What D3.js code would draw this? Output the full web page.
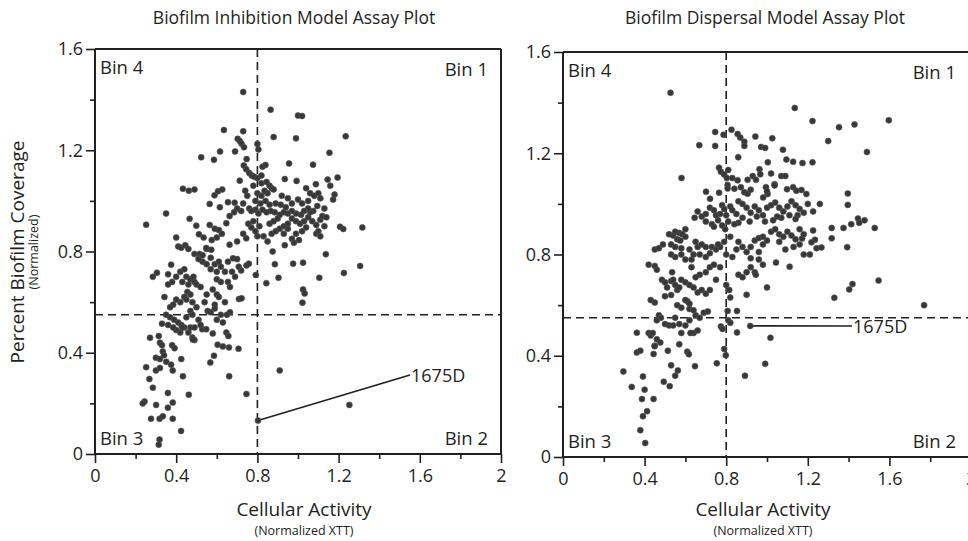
<!DOCTYPE html>
<html>
<head>
<meta charset="utf-8">
<script src="https://cdn.jsdelivr.net/npm/d3@7"></script>
<style>
  body { margin: 0; background: #fff; }
  svg { display: block; }
</style>
</head>
<body>
<script>
// ********************** DATA **************************************************************
// [cellular activity, percent biofilm coverage]
var inhibitionPoints = [
  [0.73,1.43],[0.865,1.36],[1.0,1.337],[1.02,1.335],[0.635,1.28],[0.73,1.275],[1.235,1.255],[0.88,1.252],[0.99,1.247],[0.703,1.245],
  [0.713,1.237],[0.722,1.226],[0.734,1.212],[0.80,1.225],[0.805,1.203],[0.616,1.195],[0.69,1.195],[1.155,1.19],[0.523,1.172],[0.586,1.162],
  [0.747,1.165],[1.074,1.143],[0.956,1.148],[0.733,1.14],[0.745,1.125],[0.825,1.135],[0.84,1.142],[0.76,1.11],[0.772,1.10],[0.785,1.095],
  [0.80,1.09],[0.82,1.10],
  [0.713,1.08],[1.195,1.092],[0.993,1.079],[0.935,1.086],[1.146,1.084],[1.159,1.06],[0.433,1.048],[0.462,1.04],[0.49,1.045],[0.606,1.038],
  [0.627,1.045],[0.78,1.06],[0.82,1.07],[0.845,1.075],[0.86,1.06],[0.87,1.05],[0.835,1.04],[0.80,1.03],[0.82,1.02],[0.85,1.03],
  [0.88,1.045],[1.088,1.066],[1.18,1.025],[1.173,1.005],[0.589,1.022],[0.688,0.993],[0.565,0.988],[0.74,1.04],[0.75,1.02],[0.73,0.99],
  [0.76,0.97],[0.79,1.0],[0.815,0.99],[0.84,1.0],[0.86,0.985],[0.89,0.99],[0.915,0.985],[0.94,0.975],[0.97,0.99],[1.0,1.005],
  [1.02,0.99],[1.05,1.0],[1.06,1.03],[1.08,1.02],[1.10,1.03],[1.11,1.01],[1.04,1.05],[0.92,1.02],[0.95,1.01],[1.13,0.97],
  [1.095,0.98],[1.075,0.96],[1.06,0.955],[1.05,0.97],[1.03,0.96],[1.015,0.945],[0.99,0.95],[0.97,0.96],[0.95,0.95],[0.93,0.955],
  [0.91,0.945],[0.885,0.955],[0.865,0.96],[0.845,0.955],[0.825,0.965],[0.805,0.95],[0.79,0.965],[0.77,0.96],[0.72,0.96],[0.70,0.97],
  [0.685,0.955],[0.663,0.94],[0.35,0.95],[0.615,0.975],[0.655,0.995],
  [0.252,0.906],[1.317,0.895],[1.207,0.898],[1.223,0.889],[0.647,0.912],[0.466,0.929],[0.499,0.902],[0.512,0.868],[0.535,0.855],[0.40,0.855],
  [0.41,0.82],[0.425,0.815],[0.445,0.825],[0.46,0.81],[0.565,0.905],[0.59,0.89],[0.61,0.885],[0.625,0.87],[0.60,0.855],[0.575,0.845],
  [0.55,0.81],[0.573,0.807],[0.663,0.827],[0.70,0.84],[0.73,0.87],[0.745,0.852],[0.77,0.895],[0.79,0.88],[0.80,0.86],[0.83,0.86],
  [0.85,0.84],[0.87,0.87],[0.89,0.88],[0.91,0.89],[0.93,0.90],[0.95,0.91],[0.97,0.93],[0.99,0.92],[1.01,0.91],[1.03,0.92],
  [1.05,0.935],[1.07,0.92],[1.09,0.905],[1.11,0.925],[1.12,0.94],[1.14,0.935],[1.04,0.895],[1.02,0.88],[0.99,0.87],[0.97,0.85],
  [0.98,0.835],[1.005,0.845],[1.09,0.87],[1.11,0.86],[1.1,0.88],[1.13,0.90],[0.95,0.89],[0.93,0.87],[0.755,0.91],[0.78,0.92],
  [0.81,0.90],[0.86,0.91],[0.88,0.92],[0.9,0.93],
  [0.49,0.79],[0.515,0.79],[0.548,0.814],[0.68,0.773],[0.70,0.77],[0.708,0.74],[0.72,0.725],[0.746,0.745],[0.758,0.752],[0.792,0.707],
  [0.976,0.752],[1.025,0.756],[1.137,0.789],[1.306,0.743],[1.226,0.715],[1.105,0.696],[0.904,0.696],[0.844,0.675],[1.025,0.65],[1.033,0.634],
  [1.022,0.598],[0.709,0.612],[0.722,0.615],[0.886,0.75],[0.935,0.825],[0.875,0.80],[0.285,0.70],[0.305,0.716],[0.375,0.748],[0.36,0.71],
  [0.38,0.68],[0.36,0.67],[0.342,0.62],[0.40,0.70],[0.42,0.72],[0.44,0.73],[0.45,0.70],[0.43,0.68],[0.46,0.67],[0.47,0.69],
  [0.485,0.70],[0.49,0.68],[0.50,0.67],[0.52,0.66],[0.455,0.64],[0.44,0.62],[0.42,0.60],[0.40,0.61],[0.385,0.59],[0.37,0.58],
  [0.45,0.61],[0.47,0.63],[0.48,0.60],[0.50,0.58],[0.53,0.76],[0.55,0.75],[0.57,0.73],[0.59,0.75],[0.61,0.76],[0.62,0.74],
  [0.64,0.72],[0.60,0.69],[0.62,0.68],[0.655,0.68],[0.665,0.66],[0.58,0.65],[0.60,0.63],[0.61,0.62],[0.55,0.63],[0.54,0.60],
  [0.555,0.565],[0.59,0.59],[0.64,0.6],[0.665,0.56],[0.51,0.77],[0.53,0.785],[0.57,0.775],[0.60,0.72],[0.655,0.76],[0.675,0.72],
  [0.69,0.70],
  [0.35,0.55],[0.37,0.54],[0.39,0.53],[0.41,0.52],[0.425,0.51],[0.44,0.50],[0.43,0.50],[0.40,0.49],[0.385,0.50],[0.36,0.51],
  [0.33,0.515],[0.47,0.565],[0.45,0.54],[0.48,0.55],[0.47,0.50],[0.49,0.50],[0.46,0.48],[0.48,0.46],[0.49,0.45],[0.528,0.493],
  [0.548,0.493],[0.58,0.476],[0.647,0.48],[0.657,0.466],[0.604,0.432],[0.63,0.425],[0.66,0.421],[0.707,0.416],[0.482,0.452],[0.42,0.48],
  [0.38,0.43],[0.392,0.418],[0.334,0.405],[0.314,0.466],[0.32,0.44],[0.33,0.43],[0.271,0.459],[0.60,0.53],[0.62,0.55],[0.65,0.55],
  [0.63,0.52],[0.57,0.56],[0.59,0.575],[0.51,0.53],[0.52,0.51],
  [0.351,0.364],[0.375,0.353],[0.383,0.33],[0.252,0.343],[0.268,0.296],[0.285,0.262],[0.244,0.207],[0.235,0.2],[0.301,0.194],[0.276,0.139],
  [0.318,0.139],[0.334,0.149],[0.383,0.203],[0.359,0.183],[0.359,0.241],[0.383,0.139],[0.424,0.091],[0.318,0.057],[0.314,0.037],[0.462,0.234],
  [0.746,0.237],[0.661,0.307],[0.433,0.307],[0.91,0.33],[1.253,0.194],[0.568,0.361],[0.586,0.388],[0.30,0.33],[0.32,0.34],[0.30,0.38],
  [0.425,0.375],[0.32,0.375],[0.34,0.39],[0.803,0.132]
];

var dispersalPoints = [
  [0.527,1.439],[1.136,1.379],[1.223,1.327],[1.597,1.33],[1.353,1.303],[1.429,1.314],[1.30,1.248],[1.49,1.205],[0.668,1.232],[0.746,1.284],
  [0.746,1.229],[0.787,1.273],[0.826,1.293],[0.856,1.276],[0.869,1.262],[0.889,1.245],[0.889,1.229],[0.943,1.266],[0.971,1.225],[0.991,1.221],
  [1.026,1.259],[0.859,1.184],[1.078,1.214],[1.004,1.164],[1.095,1.175],[1.128,1.166],[1.174,1.161],[1.223,1.164],
  [0.581,1.102],[0.765,1.143],[0.774,1.127],[0.79,1.116],[0.81,1.134],[0.803,1.102],[0.83,1.102],[0.856,1.093],[0.905,1.095],[0.93,1.11],
  [0.946,1.095],[0.963,1.137],[0.967,1.117],[1.02,1.12],[1.037,1.078],[1.07,1.11],[1.09,1.11],[0.807,1.075],[0.807,1.061],[0.701,1.048],
  [0.721,1.02],[0.765,1.044],[0.84,1.06],[0.872,1.066],[0.889,1.046],[0.905,1.04],[0.92,1.056],[0.995,1.066],[1.003,1.039],[0.981,1.025],
  [1.037,1.073],[1.0,1.05],[1.098,1.058],[1.128,1.066],[1.144,1.052],[1.169,1.055],[1.193,1.039],[1.259,1.0],[1.396,1.041],[1.396,0.996],
  [1.226,0.970],
  [0.66,0.97],[0.68,0.95],[0.70,0.96],[0.72,0.985],[0.74,0.975],[0.75,0.955],[0.77,0.96],[0.78,0.995],[0.79,0.98],[0.80,0.955],
  [0.81,0.93],[0.82,0.99],[0.83,0.975],[0.85,0.96],[0.86,1.01],[0.88,1.0],[0.90,0.985],[0.92,0.965],[0.94,0.99],[0.96,0.975],
  [0.98,0.955],[1.0,0.985],[1.02,0.995],[1.04,1.005],[1.06,0.985],[1.08,0.97],[1.10,0.99],[1.12,1.01],[1.14,0.995],[1.16,0.98],
  [1.11,0.955],[1.07,0.945],[1.05,0.95],[1.03,0.935],[0.99,0.93],[0.95,0.95],[0.915,0.93],[0.88,0.945],[0.86,0.925],[0.76,0.935],
  [0.73,0.92],[0.70,0.93],[0.645,0.945],[0.74,0.91],[0.78,0.915],[0.795,0.90],[1.15,0.955],[1.18,0.965],[0.84,0.92],[1.2,1.0],
  [0.6,0.9],
  [1.317,0.905],[1.317,0.864],[1.375,0.905],[1.413,0.92],[1.446,0.942],[1.452,0.925],[1.478,0.935],[1.528,0.905],[1.393,0.829],[1.226,0.895],
  [1.235,0.858],[1.218,0.848],[1.21,0.80],[1.243,0.825],[1.267,0.828],[1.172,0.863],[1.111,0.752],[1.044,0.768],[1.0,0.67],[0.52,0.88],
  [0.54,0.875],[0.55,0.89],[0.57,0.885],[0.585,0.88],[0.60,0.87],[0.56,0.86],[0.575,0.855],[0.53,0.84],[0.55,0.83],[0.45,0.82],
  [0.47,0.825],[0.49,0.84],[0.58,0.825],[0.53,0.80],[0.55,0.79],[0.58,0.80],[0.60,0.78],[0.63,0.78],[0.65,0.85],[0.66,0.83],
  [0.68,0.84],[0.70,0.83],[0.73,0.83],[0.75,0.82],[0.77,0.83],[0.79,0.85],[0.80,0.80],[0.83,0.79],[0.85,0.82],[0.88,0.83],
  [0.90,0.81],[0.92,0.83],[0.94,0.855],[0.96,0.865],[0.98,0.87],[1.0,0.855],[1.02,0.89],[1.04,0.90],[1.06,0.88],[1.08,0.87],
  [1.10,0.89],[1.12,0.875],[1.14,0.86],[1.06,0.85],[1.09,0.82],[1.13,0.83],[1.16,0.84],[1.18,0.80],[0.92,0.785],[0.96,0.81],
  [0.98,0.84],[0.86,0.85],[0.82,0.87],[0.76,0.84],[0.72,0.805],[0.70,0.79],[0.67,0.80],[0.62,0.82],[0.64,0.80],[1.14,0.94],
  [1.16,0.90],[1.18,0.88],
  [0.42,0.76],[0.45,0.755],[0.46,0.74],[0.485,0.70],[0.50,0.69],[0.51,0.67],[0.53,0.695],[0.54,0.70],[0.55,0.68],[0.56,0.66],
  [0.57,0.67],[0.58,0.70],[0.60,0.69],[0.62,0.68],[0.64,0.67],[0.66,0.65],[0.68,0.66],[0.70,0.645],[0.72,0.66],[0.75,0.70],
  [0.80,0.68],[0.815,0.66],[0.82,0.63],[0.86,0.72],[0.88,0.71],[0.90,0.73],[0.92,0.75],[0.94,0.73],[0.96,0.78],[0.67,0.72],
  [0.70,0.73],[0.72,0.75],[0.74,0.76],[0.77,0.75],[0.43,0.62],[0.45,0.61],[0.50,0.635],[0.53,0.64],[0.56,0.60],[0.58,0.59],
  [0.61,0.615],[0.62,0.605],[0.62,0.585],[0.60,0.62],[1.419,0.683],[1.403,0.662],[1.33,0.629],[1.77,0.60],[1.547,0.697],[0.9,0.641],
  [0.945,0.72],[0.98,0.76],[0.65,0.71],[0.535,0.73],[0.63,0.75],
  [0.853,0.577],[0.853,0.492],[0.807,0.577],[0.81,0.54],[0.82,0.53],[0.774,0.516],[0.782,0.506],[0.79,0.427],[0.798,0.402],[0.754,0.37],
  [0.918,0.518],[1.017,0.471],[0.991,0.368],[0.892,0.321],[0.47,0.56],[0.48,0.55],[0.46,0.54],[0.50,0.525],[0.52,0.52],[0.54,0.52],
  [0.57,0.525],[0.55,0.55],[0.60,0.52],[0.62,0.54],[0.65,0.56],[0.67,0.55],[0.69,0.57],[0.64,0.58],[0.71,0.575],[0.362,0.491],
  [0.42,0.49],[0.43,0.48],[0.44,0.49],[0.46,0.465],[0.45,0.44],[0.477,0.452],[0.449,0.438],[0.444,0.407],[0.362,0.413],[0.379,0.42],
  [0.514,0.42],[0.57,0.445],[0.609,0.416],[0.617,0.406],[0.64,0.49],[0.625,0.49],[0.66,0.50],[0.58,0.49],
  [0.647,0.359],[0.53,0.362],[0.563,0.342],[0.55,0.321],[0.494,0.297],[0.523,0.28],[0.296,0.338],[0.337,0.277],[0.392,0.318],[0.40,0.266],
  [0.387,0.229],[0.444,0.229],[0.412,0.181],[0.392,0.161],[0.379,0.106],[0.403,0.055]
];

var xMajorTicks = [0, 0.4, 0.8, 1.2, 1.6, 2];
var xMinorTicks = [0.2, 0.6, 1.0, 1.4, 1.8];
var yMajorTicks = [0, 0.4, 0.8, 1.2, 1.6];
var yMinorTicks = [0.2, 0.6, 1.0, 1.4];
var xCutoff = 0.8;
var yCutoff = 0.55;
var binLabels = ["Bin 1", "Bin 2", "Bin 3", "Bin 4"];
var calloutName = "1675D";
var inhibitionCallout = [0.803, 0.132];
var dispersalCallout = [0.918, 0.518];

var fontFamily = "'Open Sans', 'DejaVu Sans', sans-serif";
var ink = "#231f20";

var svg = d3.select("body").append("svg")
  .attr("width", 968)
  .attr("height", 541);

function tickFormat(d) {
  return d === 0 || d === 2 ? String(d) : d3.format(".1f")(d);
}

// ********************** PANEL ************************************************************
function drawPanel(opt) {
  var x = d3.scaleLinear().domain([0, 2]).range([opt.left, opt.right]);
  var y = d3.scaleLinear().domain([0, 1.6]).range([opt.bottom, opt.top]);
  var g = svg.append("g");

  // title
  g.append("text")
    .attr("x", opt.titleX)
    .attr("y", 24)
    .attr("text-anchor", "middle")
    .text(opt.title)
    .style("font-size", "17.5px")
    .style("font-family", fontFamily)
    .style("fill", ink);

  // dashed cutoffs
  g.append("line")
    .attr("x1", x(xCutoff)).attr("x2", x(xCutoff))
    .attr("y1", y(1.6)).attr("y2", y(0))
    .attr("stroke", ink).attr("stroke-width", 1.6)
    .attr("stroke-dasharray", "8,5");
  g.append("line")
    .attr("x1", x(0)).attr("x2", x(2))
    .attr("y1", y(yCutoff)).attr("y2", y(yCutoff))
    .attr("stroke", ink).attr("stroke-width", 1.6)
    .attr("stroke-dasharray", "8,5");

  // callout line
  var c = opt.callout;
  g.append("line")
    .attr("x1", x(c[0])).attr("y1", y(c[1]))
    .attr("x2", opt.calloutX).attr("y2", opt.calloutY)
    .attr("stroke", ink).attr("stroke-width", 1.6);
  g.append("text")
    .attr("x", opt.calloutX + 1)
    .attr("y", opt.calloutY + 6.5)
    .text(calloutName)
    .style("font-size", "18px")
    .style("font-family", fontFamily)
    .style("fill", ink);

  // points
  g.append("g").selectAll("circle")
    .data(opt.points)
    .enter().append("circle")
    .attr("cx", function(d) { return x(d[0]); })
    .attr("cy", function(d) { return y(d[1]); })
    .attr("r", 3)
    .attr("fill", "#383838")
    .attr("stroke", "#555")
    .attr("stroke-width", 0.6);

  // frame
  g.append("line")
    .attr("x1", x(0)).attr("x2", x(2))
    .attr("y1", y(1.6)).attr("y2", y(1.6))
    .attr("stroke", ink).attr("stroke-width", 2);
  g.append("line")
    .attr("x1", x(2)).attr("x2", x(2))
    .attr("y1", y(1.6)).attr("y2", y(0))
    .attr("stroke", ink).attr("stroke-width", 2);

  // axes
  var xMinor = g.append("g")
    .attr("transform", "translate(0," + y(0) + ")")
    .call(d3.axisBottom(x).tickValues(xMinorTicks).tickSize(5).tickFormat(""));
  var xMajor = g.append("g")
    .attr("transform", "translate(0," + y(0) + ")")
    .call(d3.axisBottom(x).tickValues(xMajorTicks).tickSize(9).tickPadding(6).tickFormat(tickFormat));
  var yMinor = g.append("g")
    .attr("transform", "translate(" + x(0) + ",0)")
    .call(d3.axisLeft(y).tickValues(yMinorTicks).tickSize(5).tickFormat(""));
  var yMajor = g.append("g")
    .attr("transform", "translate(" + x(0) + ",0)")
    .call(d3.axisLeft(y).tickValues(yMajorTicks).tickSize(9).tickPadding(3).tickFormat(tickFormat));

  [xMinor, xMajor, yMinor, yMajor].forEach(function(a) {
    a.select(".domain").attr("stroke", ink).attr("stroke-width", 2);
    a.selectAll(".tick line").attr("stroke", ink).attr("stroke-width", 1.6);
    a.selectAll(".tick text")
      .style("font-size", "18px")
      .style("font-family", fontFamily)
      .style("fill", ink);
  });
  xMinor.select(".domain").remove();
  yMinor.select(".domain").remove();
  xMajor.select(".domain").attr("d", "M" + x(0) + ",0H" + x(2));
  yMajor.select(".domain").attr("d", "M0," + y(0) + "V" + y(1.6));

  // bin labels
  var binStyle = function(t) {
    t.style("font-size", "18.5px").style("font-family", fontFamily).style("fill", ink);
  };
  g.append("text").attr("x", opt.binRight).attr("y", y(1.6) + 27)
    .attr("text-anchor", "end").text(binLabels[0]).call(binStyle);
  g.append("text").attr("x", opt.binRight).attr("y", y(0) - 9)
    .attr("text-anchor", "end").text(binLabels[1]).call(binStyle);
  g.append("text").attr("x", x(0) + 5).attr("y", y(0) - 9)
    .text(binLabels[2]).call(binStyle);
  g.append("text").attr("x", x(0) + 5).attr("y", y(1.6) + 25)
    .text(binLabels[3]).call(binStyle);

  // x axis label
  g.append("text")
    .attr("x", opt.xLabelX).attr("y", 516)
    .attr("text-anchor", "middle")
    .text("Cellular Activity")
    .style("font-size", "19px").style("font-family", fontFamily).style("fill", ink);
  g.append("text")
    .attr("x", opt.xLabelX).attr("y", 535)
    .attr("text-anchor", "middle")
    .text("(Normalized XTT)")
    .style("font-size", "12.5px").style("font-family", fontFamily).style("fill", ink);
}

drawPanel({
  title: "Biofilm Inhibition Model Assay Plot", titleX: 294,
  left: 95, right: 501, top: 49, bottom: 454,
  points: inhibitionPoints, callout: inhibitionCallout, calloutX: 410, calloutY: 375,
  binRight: 488, xLabelX: 304
});

drawPanel({
  title: "Biofilm Dispersal Model Assay Plot", titleX: 765,
  left: 563, right: 971, top: 52, bottom: 457,
  points: dispersalPoints, callout: dispersalCallout, calloutX: 852, calloutY: 326,
  binRight: 956, xLabelX: 763
});

// ********************** Y AXIS LABEL *****************************************************
svg.append("text")
  .attr("transform", "translate(24,252) rotate(-90)")
  .attr("text-anchor", "middle")
  .text("Percent Biofilm Coverage")
  .style("font-size", "19px").style("font-family", fontFamily).style("fill", ink);
svg.append("text")
  .attr("transform", "translate(38,252) rotate(-90)")
  .attr("text-anchor", "middle")
  .text("(Normalized)")
  .style("font-size", "12.5px").style("font-family", fontFamily).style("fill", ink);
</script>
</body>
</html>
